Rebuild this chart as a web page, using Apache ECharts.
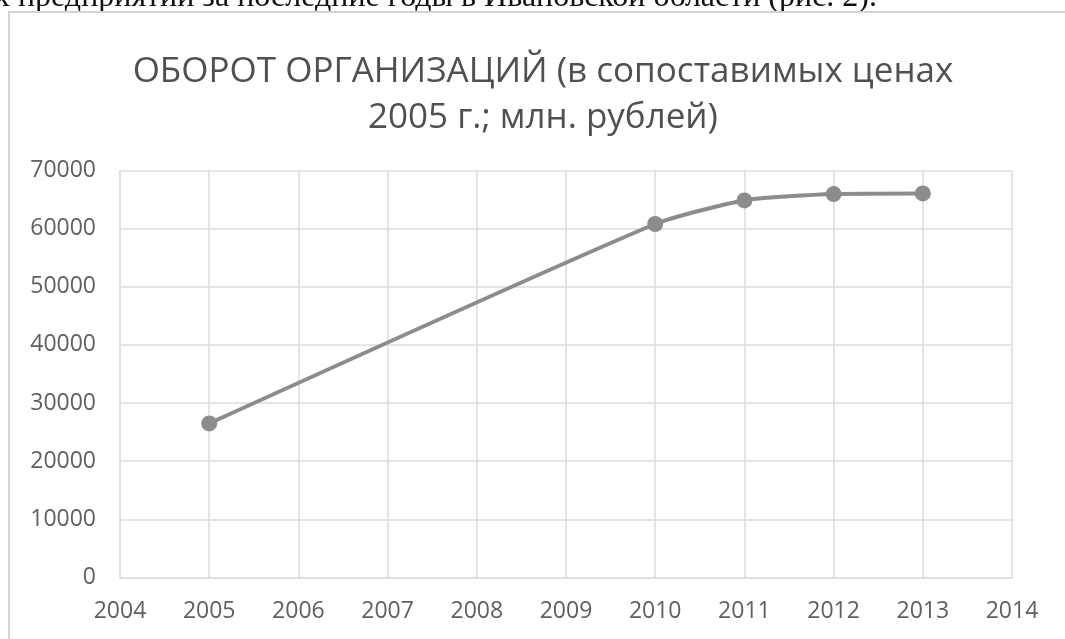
<!DOCTYPE html>
<html>
<head>
<meta charset="utf-8">
<script src="https://cdn.jsdelivr.net/npm/echarts@6/dist/echarts.min.js"></script>
<style>
  html, body { margin: 0; padding: 0; background: #fff; }
  #chart { width: 1065px; height: 639px; }
</style>
</head>
<body>
<div id="chart"></div>
<script>
// turnover data, Ivanovo region
const years = [2005, 2010, 2011, 2012, 2013];
const turnover = [26500, 60800, 64850, 65950, 66050];
const yTicks = { min: 0, max: 70000, step: 10000 };
const xTicks = { min: 2004, max: 2014, step: 1 };

const titleText = "ОБОРОТ ОРГАНИЗАЦИЙ (в сопоставимых ценах\n2005 г.; млн. рублей)";
const pageLine = "х предприятий за последние годы в Ивановской области (рис. 2).";

const chart = echarts.init(document.getElementById("chart"));

const labelStyle = {
  color: "#5f5f5f",
  fontFamily: "Open Sans",
  fontSize: 23,
};
const gridLine = { lineStyle: { color: "#dcdcdc", width: 1.5 } };

chart.setOption({
  animation: false,
  backgroundColor: "#fff",
  title: {
    text: titleText,
    left: 538,
    top: 44,
    textAlign: "center",
    textStyle: {
      color: "#505050",
      fontFamily: "Open Sans",
      fontWeight: "normal",
      fontSize: 35,
      lineHeight: 46,
    },
  },
  grid: { left: 120, right: 53, top: 170.5, bottom: 61.5 },
  xAxis: {
    type: "value",
    min: xTicks.min,
    max: xTicks.max,
    interval: xTicks.step,
    axisLine: { show: true, lineStyle: { color: "#dcdcdc", width: 1.5 } },
    axisTick: { show: false },
    splitLine: { show: true, ...gridLine },
    axisLabel: { ...labelStyle, margin: 22, formatter: (v) => String(v) },
  },
  yAxis: {
    type: "value",
    min: yTicks.min,
    max: yTicks.max,
    interval: yTicks.step,
    axisLine: { show: true, lineStyle: { color: "#dcdcdc", width: 1.5 } },
    axisTick: { show: false },
    splitLine: { show: true, ...gridLine },
    axisLabel: { ...labelStyle, margin: 24, formatter: (v) => String(v) },
  },
  series: [
    {
      type: "line",
      data: years.map((y, i) => [y, turnover[i]]),
      smooth: 0.2,
      symbol: "circle",
      symbolSize: 16,
      itemStyle: { color: "#8c8c8c" },
      lineStyle: { color: "#8c8c8c", width: 4 },
    },
  ],
  graphic: [
    {
      type: "text",
      style: {
        x: 877,
        y: 14,
        text: pageLine,
        align: "right",
        verticalAlign: "bottom",
        fill: "#111",
        font: "32px 'Liberation Serif'",
      },
    },
    {
      type: "rect",
      shape: { x: 9, y: 12, width: 1200, height: 800 },
      style: { fill: "none", stroke: "#d4d4d4", lineWidth: 2 },
    },
  ],
});
</script>
</body>
</html>
